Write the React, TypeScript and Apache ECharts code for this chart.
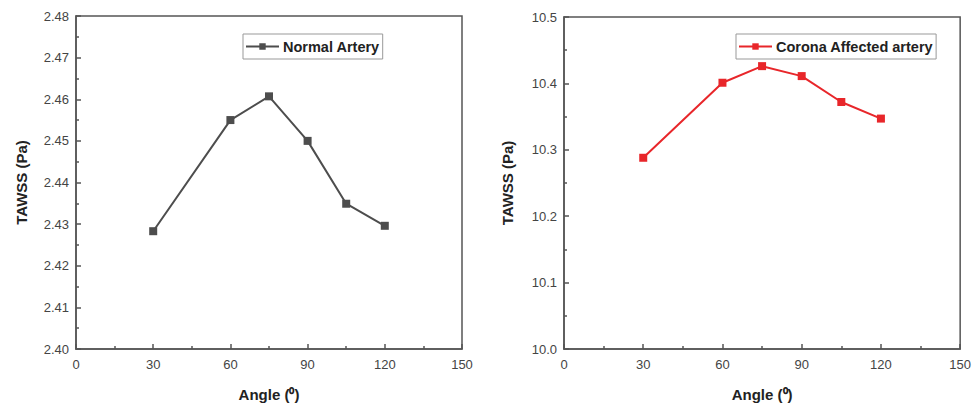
import React, { useEffect, useRef } from "react";
import * as echarts from "echarts";

const angles = [30, 60, 75, 90, 105, 120];
const normalArtery = [2.4283, 2.455, 2.4607, 2.45, 2.4349, 2.4296];
const coronaArtery = [10.288, 10.401, 10.426, 10.411, 10.372, 10.347];
const normalName = "Normal Artery";
const coronaName = "Corona Affected artery";
const xTitle = "Angle (⁰)";
const yTitle = "TAWSS (Pa)";

const FONT = "Liberation Sans, Arial, sans-serif";
const AXIS_COLOR = "#555";

function xAxisCfg(gridIndex: number) {
  return {
    type: "value",
    gridIndex,
    min: 0,
    max: 150,
    interval: 30,
    name: xTitle,
    nameLocation: "middle",
    nameGap: 38,
    nameTextStyle: { fontFamily: FONT, fontWeight: "bold", fontSize: 15, color: "#222" },
    axisLine: { show: true, onZero: false, lineStyle: { color: AXIS_COLOR, width: 1.5 } },
    axisTick: { show: true, inside: true, length: 5, lineStyle: { color: AXIS_COLOR, width: 1.5 } },
    minorTick: { show: true, splitNumber: 2, length: 3, lineStyle: { color: AXIS_COLOR, width: 1.5 } },
    splitLine: { show: false },
    axisLabel: { fontFamily: FONT, fontSize: 13, color: "#444", margin: 9 },
  };
}

function yAxisCfg(gridIndex: number, min: number, max: number, interval: number, decimals: number, nameGap: number) {
  return {
    type: "value",
    gridIndex,
    min,
    max,
    interval,
    name: yTitle,
    nameLocation: "middle",
    nameGap,
    nameTextStyle: { fontFamily: FONT, fontWeight: "bold", fontSize: 15, color: "#222" },
    axisLine: { show: true, lineStyle: { color: AXIS_COLOR, width: 1.5 } },
    axisTick: { show: true, inside: true, length: 5, lineStyle: { color: AXIS_COLOR, width: 1.5 } },
    minorTick: { show: true, splitNumber: 2, length: 3, lineStyle: { color: AXIS_COLOR, width: 1.5 } },
    splitLine: { show: false },
    axisLabel: {
      fontFamily: FONT,
      fontSize: 13,
      color: "#444",
      margin: 7,
      formatter: (v: number) => v.toFixed(decimals),
    },
  };
}

export default function App() {
  const ref = useRef<HTMLDivElement>(null);
  useEffect(() => {
    document.body.style.margin = "0";
    if (!ref.current) return;
    const chart = echarts.init(ref.current, undefined, { renderer: "svg" });
    const legendBase = {
      orient: "horizontal",
      borderColor: "#999",
      borderWidth: 1,
      borderRadius: 0,
      padding: [5, 3, 5, 2],
      itemWidth: 33,
      itemHeight: 8,
      itemGap: 4,
      textStyle: { fontFamily: FONT, fontWeight: "bold", fontSize: 14.5, color: "#222", padding: [0, 0, 0, -1] },
    };
    chart.setOption({
      animation: false,
      backgroundColor: "#fff",
      grid: [
        { left: 76, top: 16, width: 386, height: 338, show: true, borderColor: AXIS_COLOR, borderWidth: 1.5, backgroundColor: "transparent" },
        { left: 564, top: 17, width: 398, height: 337, show: true, borderColor: AXIS_COLOR, borderWidth: 1.5, backgroundColor: "transparent" },
      ],
      legend: [
        { ...legendBase, data: [normalName], left: 243, top: 34 },
        { ...legendBase, data: [coronaName], left: 736, top: 34 },
      ],
      xAxis: [xAxisCfg(0), xAxisCfg(1)],
      yAxis: [
        yAxisCfg(0, 2.4, 2.48, 0.01, 2, 47),
        yAxisCfg(1, 10.0, 10.5, 0.1, 1, 49),
      ],
      series: [
        {
          name: normalName,
          type: "line",
          xAxisIndex: 0,
          yAxisIndex: 0,
          data: angles.map((a, i) => [a, normalArtery[i]]),
          symbol: "rect",
          symbolSize: 8,
          lineStyle: { color: "#4d4d4d", width: 2 },
          itemStyle: { color: "#4d4d4d" },
        },
        {
          name: coronaName,
          type: "line",
          xAxisIndex: 1,
          yAxisIndex: 1,
          data: angles.map((a, i) => [a, coronaArtery[i]]),
          symbol: "rect",
          symbolSize: 8,
          lineStyle: { color: "#e8262a", width: 2 },
          itemStyle: { color: "#e8262a" },
        },
      ],
    });
    return () => chart.dispose();
  }, []);
  return <div ref={ref} style={{ width: 974, height: 407 }} />;
}
